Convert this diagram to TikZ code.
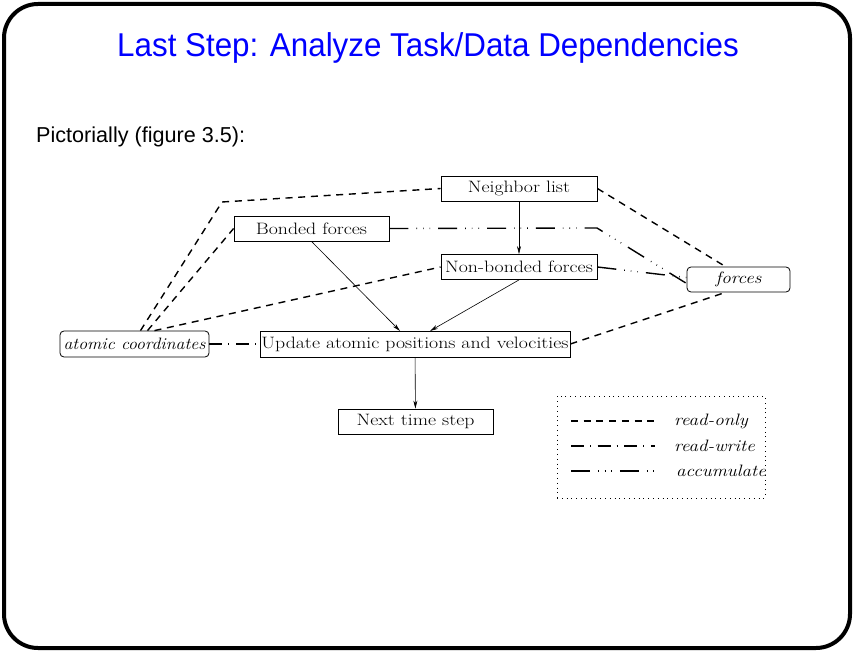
\documentclass[tikz,border=0pt]{standalone}
\usepackage{fontspec}
\newfontfamily\helv{Liberation Sans}
\usetikzlibrary{arrows.meta}
\newcommand{\myWideRm}[1]{\scalebox{1.2}[1]{#1}}
\newcommand{\myWideIt}[1]{\scalebox{1.15}[1]{\itshape #1}}
\begin{document}
\begin{tikzpicture}[x=1pt,y=-1pt,
  box/.style={draw,line width=0.8pt,inner sep=0pt,minimum height=25pt,font=\fontsize{16.5}{19}\selectfont},
  dbox/.style={box,rounded corners=4pt},
  flow/.style={line width=0.6pt,-{Stealth[length=8pt,width=4pt]}},
  ro/.style={line width=1.4pt,dash pattern=on 7pt off 5.7pt},
  rw/.style={line width=1.4pt,dash pattern=on 13pt off 6pt on 0.6pt off 7pt},
  acc/.style={line width=1.4pt,dash pattern=on 19pt off 8pt on 0.6pt off 6pt on 0.6pt off 6pt on 0.6pt off 8pt},
  lbl/.style={anchor=west,inner sep=0pt,font=\fontsize{16.5}{19}\selectfont}]
\useasboundingbox (0,0) rectangle (854,652);
\draw[line width=4pt,rounded corners=34pt] (4,4) rectangle (850,648);
\node[font=\helv\fontsize{33}{38}\selectfont,text=blue] (title) at (428,48) {\scalebox{0.95}[1]{Last Step: Analyze Task/Data Dependencies}};
\node[font=\helv\fontsize{21.6}{25}\selectfont,anchor=base west,inner sep=0pt] (pict) at (36,143) {Pictorially (figure 3.5):};

\node[box,minimum width=156pt] (nl) at (519,188.5) {\myWideRm{Neighbor list}};
\node[box,minimum width=155pt] (bf) at (311.5,228.5) {\myWideRm{Bonded forces}};
\node[box,minimum width=156pt] (nbf) at (519,267) {\myWideRm{Non-bonded forces}};
\node[dbox,minimum width=103pt] (fo) at (738.5,279.5) {\myWideIt{forces}};
\node[dbox,minimum width=149pt,minimum height=26pt] (ac) at (134.5,344) {\scalebox{1.08}[1]{\itshape atomic coordinates}};
\node[box,minimum width=310pt,minimum height=26pt] (up) at (415,344) {\myWideRm{Update atomic positions and velocities}};
\node[box,minimum width=155pt] (nt) at (415.5,421.5) {\myWideRm{Next time step}};

\coordinate (k1) at (222,202);
\coordinate (k2) at (597,228);
\coordinate (upa) at (400,331);
\coordinate (upb) at (430,331);

\draw[flow] (nl) -- (nbf);
\draw[flow] (bf.south) -- (upa);
\draw[flow] (nbf.south) -- (upb);
\draw[flow] (up) -- (nt);

\draw[ro] ([xshift=6pt]ac.north) -- (k1) -- (nl.west);
\draw[ro] ([xshift=13pt]ac.north) -- (bf.west);
\draw[ro] ([xshift=20pt]ac.north) -- (nbf.west);
\draw[ro] (nl.east) -- ([xshift=-13pt]fo.north);
\draw[ro] (up.east) -- ([xshift=-13pt]fo.south);
\draw[rw] (ac.east) -- (up.west);
\draw[acc] (bf.east) -- (k2) -- ([yshift=-4pt]fo.west);
\draw[acc] (nbf.east) -- ([yshift=2pt]fo.west);

\node[draw,line width=0.8pt,dash pattern=on 0.8pt off 4pt,minimum width=208pt,minimum height=102pt,inner sep=0pt] (leg) at (661,447) {};
\coordinate (l1a) at (571,421); \coordinate (l1b) at (655,421);
\coordinate (l2a) at (571,446); \coordinate (l2b) at (655,446);
\coordinate (l3a) at (571,471); \coordinate (l3b) at (655,471);
\draw[ro] (l1a) -- (l1b);
\draw[rw] (l2a) -- (l2b);
\draw[acc] (l3a) -- (l3b);
\node[lbl] (t1) at (674,421) {\myWideIt{read-only}};
\node[lbl] (t2) at (674,446) {\myWideIt{read-write}};
\node[lbl] (t3) at (676,471) {\myWideIt{accumulate}};
\end{tikzpicture}
\end{document}
